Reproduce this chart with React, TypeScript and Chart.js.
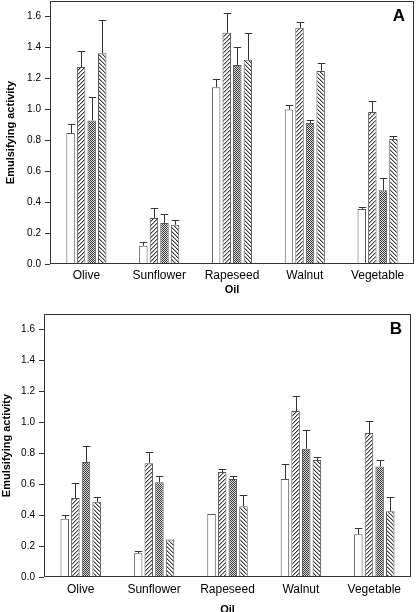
import React, { useEffect, useRef } from "react";
import Chart from "chart.js/auto";

const CATEGORIES = ["Olive", "Sunflower", "Rapeseed", "Walnut", "Vegetable"];
const Y_TICKS = [0, 0.2, 0.4, 0.6, 0.8, 1.0, 1.2, 1.4, 1.6];
const Y_MAX = 1.7;
const Y_TITLE = "Emulsifying activity";
const X_TITLE = "Oil";

// Panel A: means and standard deviations (upper error) per treatment
const A_S1 = [0.846, 0.118, 1.143, 0.998, 0.356];
const A_S1_SD = [0.061, 0.024, 0.054, 0.03, 0.015];
const A_S2 = [1.273, 0.297, 1.495, 1.527, 0.983];
const A_S2_SD = [0.101, 0.063, 0.129, 0.037, 0.073];
const A_S3 = [0.928, 0.265, 1.287, 0.911, 0.477];
const A_S3_SD = [0.149, 0.055, 0.117, 0.022, 0.078];
const A_S4 = [1.363, 0.254, 1.32, 1.248, 0.808];
const A_S4_SD = [0.217, 0.03, 0.175, 0.052, 0.017];

// Panel B
const B_S1 = [0.376, 0.153, 0.408, 0.633, 0.276];
const B_S1_SD = [0.024, 0.013, 0, 0.099, 0.041];
const B_S2 = [0.51, 0.736, 0.678, 1.073, 0.93];
const B_S2_SD = [0.1, 0.069, 0.017, 0.099, 0.078];
const B_S3 = [0.743, 0.613, 0.633, 0.829, 0.714];
const B_S3_SD = [0.101, 0.043, 0.023, 0.121, 0.044];
const B_S4 = [0.486, 0.242, 0.458, 0.756, 0.425];
const B_S4_SD = [0.03, 0, 0.069, 0.019, 0.089];

const FONT = '"Liberation Sans", Arial, Helvetica, sans-serif';

function makePattern(kind: string): any {
  if (kind === "white") return "#ffffff";
  const c = document.createElement("canvas");
  const size = kind === "cross" ? 2 : 4;
  c.width = size;
  c.height = size;
  const ctx = c.getContext("2d")!;
  const img = ctx.createImageData(size, size);
  for (let y = 0; y < size; y++) {
    for (let x = 0; x < size; x++) {
      let v = 255;
      if (kind === "cross") {
        v = (x + y) % 2 === 0 ? 60 : 215;
      } else if (kind === "fwd") {
        const m = (x + y) % 4;
        v = m === 3 ? 60 : m === 0 ? 175 : 255;
      } else {
        const m = (x - y + 8) % 4;
        v = m === 0 ? 60 : m === 1 ? 175 : 255;
      }
      const i = (y * size + x) * 4;
      img.data[i] = v;
      img.data[i + 1] = v;
      img.data[i + 2] = v;
      img.data[i + 3] = 255;
    }
  }
  ctx.putImageData(img, 0, 0);
  return ctx.createPattern(c, "repeat");
}

const errorBarPlugin = {
  id: "errbars",
  afterDatasetsDraw(chart: any) {
    const ctx = chart.ctx;
    const yScale = chart.scales.y;
    chart.data.datasets.forEach((ds: any, i: number) => {
      const meta = chart.getDatasetMeta(i);
      meta.data.forEach((bar: any, j: number) => {
        const sd = ds.errors[j];
        if (!sd) return;
        const topPx = Math.round(yScale.getPixelForValue(ds.data[j] + sd)) + 0.5;
        const x = Math.round(bar.x) + 0.5;
        const half = bar.width / 2 - 0.5;
        ctx.save();
        ctx.strokeStyle = "#333";
        ctx.lineWidth = 1;
        ctx.beginPath();
        ctx.moveTo(x, bar.y);
        ctx.lineTo(x, topPx);
        ctx.moveTo(x - half, topPx);
        ctx.lineTo(x + half, topPx);
        ctx.stroke();
        ctx.restore();
      });
    });
  },
};

const framePlugin = {
  id: "frame",
  afterDraw(chart: any, _args: any, opts: any) {
    const ctx = chart.ctx;
    const { left, right, top, bottom } = chart.chartArea;
    ctx.save();
    ctx.strokeStyle = "#333";
    ctx.lineWidth = 1;
    ctx.strokeRect(
      Math.round(left) + 0.5,
      Math.round(top) + 0.5,
      Math.round(right - left) - 1,
      Math.round(bottom - top) - 1
    );
    ctx.font = "bold 17px " + FONT;
    ctx.textAlign = "right";
    ctx.textBaseline = "middle";
    ctx.fillStyle = "#000";
    ctx.fillText(opts.label, right - 9, top + 15);
    ctx.restore();
  },
};

type PanelProps = {
  label: string;
  top: number;
  height: number;
  axisWidth: number;
  rightPad: number;
  topPad: number;
  xAxisHeight: number;
  xLabelPad: number;
  yTitlePad: number;
  series: number[][];
  errors: number[][];
};

function Panel(p: PanelProps) {
  const ref = useRef<HTMLCanvasElement>(null);
  useEffect(() => {
    const canvas = ref.current!;
    const kinds = ["white", "fwd", "cross", "back"];
    const chart = new Chart(canvas, {
      type: "bar",
      data: {
        labels: CATEGORIES,
        datasets: p.series.map((s, i) => ({
          label: "S" + (i + 1),
          data: s,
          errors: p.errors[i],
          backgroundColor: makePattern(kinds[i]),
          borderColor: "#555",
          borderWidth: 1,
          categoryPercentage: 0.58,
          barPercentage: 0.8,
        })) as any,
      },
      options: {
        responsive: false,
        animation: false,
        events: [],
        layout: { padding: { left: 0, right: p.rightPad, top: p.topPad, bottom: 0 } },
        plugins: {
          legend: { display: false },
          tooltip: { enabled: false },
          frame: { label: p.label },
        } as any,
        scales: {
          x: {
            grid: { display: false, drawTicks: false },
            border: { display: false },
            ticks: { padding: p.xLabelPad, color: "#000", font: { size: 12, family: FONT } },
            title: {
              display: true,
              text: X_TITLE,
              color: "#000",
              font: { size: 11, weight: "bold", family: FONT },
              padding: { top: 0, bottom: 3.4 },
            },
            afterFit(scale: any) {
              scale.height = p.xAxisHeight;
              scale.paddingLeft = 0;
              scale.paddingRight = 0;
            },
          },
          y: {
            min: 0,
            max: Y_MAX,
            grid: {
              display: true,
              drawOnChartArea: false,
              drawTicks: true,
              tickLength: 5,
              color: "#333",
            },
            border: { display: false },
            ticks: {
              padding: 4,
              color: "#000",
              font: { size: 10, family: FONT },
              callback: (v: any) => Number(v).toFixed(1),
            },
            title: {
              display: true,
              text: Y_TITLE,
              color: "#000",
              font: { size: 11, weight: "bold", family: FONT },
              padding: { top: p.yTitlePad, bottom: 0 },
            },
            afterBuildTicks(scale: any) {
              scale.ticks = Y_TICKS.map((v) => ({ value: v }));
            },
            afterFit(scale: any) {
              scale.width = p.axisWidth;
              scale.paddingTop = 0;
              scale.paddingBottom = 0;
            },
          },
        },
      } as any,
      plugins: [errorBarPlugin, framePlugin] as any,
    });
    return () => chart.destroy();
  }, []);
  return (
    <canvas
      ref={ref}
      width={417}
      height={p.height}
      style={{ position: "absolute", left: 0, top: p.top, width: 417, height: p.height }}
    />
  );
}

export default function App() {
  return (
    <div
      style={{
        position: "fixed",
        left: 0,
        top: 0,
        width: 417,
        height: 612,
        overflow: "hidden",
        background: "#fff",
      }}
    >
      <Panel
        label="A"
        top={0}
        height={300}
        axisWidth={50}
        rightPad={3}
        topPad={1}
        xAxisHeight={36}
        xLabelPad={4}
        yTitlePad={4}
        series={[A_S1, A_S2, A_S3, A_S4]}
        errors={[A_S1_SD, A_S2_SD, A_S3_SD, A_S4_SD]}
      />
      <Panel
        label="B"
        top={300}
        height={320}
        axisWidth={44}
        rightPad={6}
        topPad={14}
        xAxisHeight={43}
        xLabelPad={5}
        yTitlePad={0}
        series={[B_S1, B_S2, B_S3, B_S4]}
        errors={[B_S1_SD, B_S2_SD, B_S3_SD, B_S4_SD]}
      />
    </div>
  );
}
